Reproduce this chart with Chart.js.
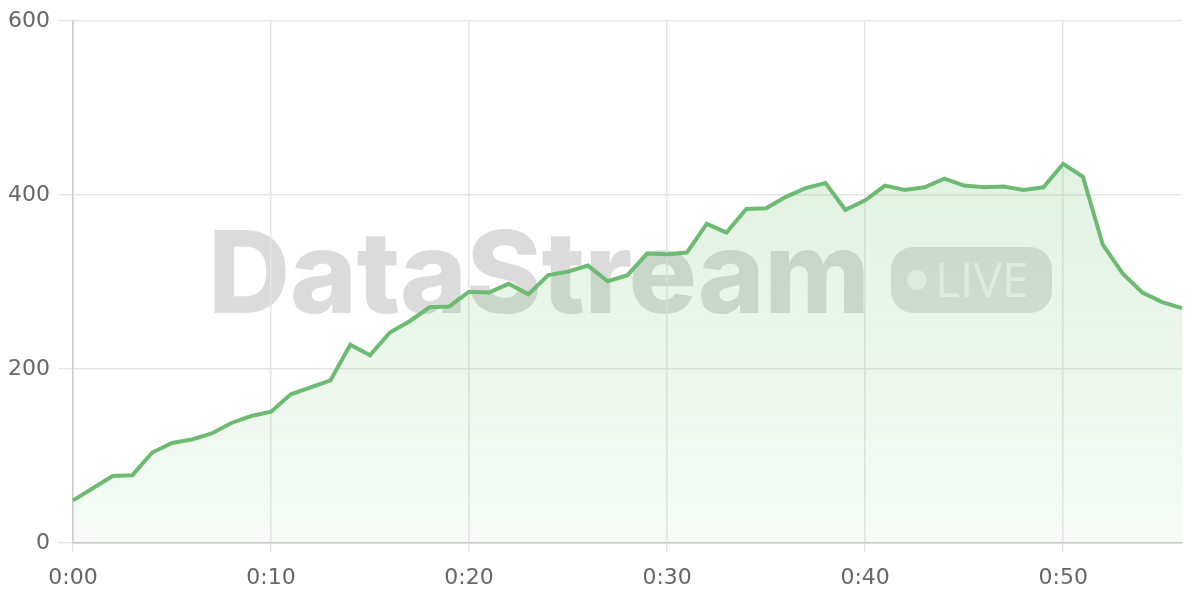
<!DOCTYPE html>
<html>
<head>
<meta charset="utf-8">
<script src="https://cdn.jsdelivr.net/npm/chart.js@4"></script>
<style>
  html, body { margin: 0; padding: 0; background: #fff; }
  #wrap { width: 1200px; height: 600px; }
</style>
</head>
<body>
<div id="wrap"><canvas id="streamChart"></canvas></div>
<script>
// viewers per minute
const minutes = Array.from({ length: 57 }, (_, i) => "0:" + String(i).padStart(2, "0"));
const viewers = [
  49, 63, 77, 78, 104, 115, 119, 126, 138, 146,
  151, 171, 179, 187, 228, 216, 242, 255, 271, 272,
  289, 288, 298, 286, 308, 312, 319, 301, 308, 333,
  332, 334, 367, 357, 384, 385, 398, 408, 414, 383,
  394, 411, 406, 409, 419, 411, 409, 410, 406, 409,
  436, 421, 343, 310, 288, 277, 270
];
const yTicks = [0, 200, 400, 600];

// watermark behind the data
const watermark = {
  id: "watermark",
  beforeDraw(chart) {
    const ctx = chart.ctx;
    ctx.save();
    ctx.fillStyle = "rgba(0,0,0,0.14)";
    ctx.font = "800 114px Inter, sans-serif";
    ctx.letterSpacing = "-0.5px";
    ctx.textBaseline = "alphabetic";
    ctx.textAlign = "left";
    ctx.fillText("DataStream", 208, 313);
    ctx.letterSpacing = "0px";

    // LIVE badge
    const bx = 891, by = 247, bw = 161, bh = 66, r = 22;
    ctx.fillStyle = "rgba(0,0,0,0.12)";
    ctx.beginPath();
    ctx.roundRect(bx, by, bw, bh, r);
    ctx.fill();
    ctx.fillStyle = "rgba(255,255,255,0.6)";
    ctx.beginPath();
    ctx.arc(917, 280, 10, 0, Math.PI * 2);
    ctx.fill();
    ctx.font = "48px 'Open Sans', sans-serif";
    ctx.fillText("LIVE", 935, 297);
    ctx.restore();
  }
};

const ctx = document.getElementById("streamChart");
new Chart(ctx, {
  type: "line",
  data: {
    labels: minutes,
    datasets: [{
      data: viewers,
      borderColor: "#6dbb72",
      borderWidth: 4,
      pointRadius: 0,
      tension: 0,
      fill: true,
      backgroundColor: (c) => {
        const area = c.chart.chartArea;
        if (!area) return "rgba(102,187,106,0.15)";
        const g = c.chart.ctx.createLinearGradient(0, area.top, 0, area.bottom);
        g.addColorStop(0, "rgba(102,187,106,0.25)");
        g.addColorStop(1, "rgba(102,187,106,0.06)");
        return g;
      }
    }]
  },
  options: {
    responsive: true,
    maintainAspectRatio: false,
    animation: false,
    layout: { padding: { top: 8, right: 18, left: 0, bottom: 0 } },
    plugins: {
      legend: { display: false },
      tooltip: { enabled: false }
    },
    scales: {
      x: {
        afterFit: (axis) => { axis.height = 57; },
        grid: { color: "#e6e6e6", lineWidth: 1.5, tickLength: 9 },
        border: { color: "#cccccc", width: 1.5 },
        ticks: {
          autoSkip: false,
          maxRotation: 0,
          color: "#666",
          font: { family: "'DejaVu Sans', sans-serif", size: 22 },
          padding: 13,
          callback: (v, i) => (i % 10 === 0 ? minutes[i] : null)
        }
      },
      y: {
        min: 0,
        max: 600,
        afterFit: (axis) => { axis.width = 73; },
        afterBuildTicks: (axis) => { axis.ticks = yTicks.map(v => ({ value: v })); },
        grid: { color: "#e6e6e6", lineWidth: 1.5, tickLength: 15 },
        border: { color: "#cccccc", width: 1.5 },
        ticks: {
          color: "#666",
          font: { family: "'DejaVu Sans', sans-serif", size: 22 },
          padding: 8
        }
      }
    }
  },
  plugins: [watermark]
});
</script>
</body>
</html>
